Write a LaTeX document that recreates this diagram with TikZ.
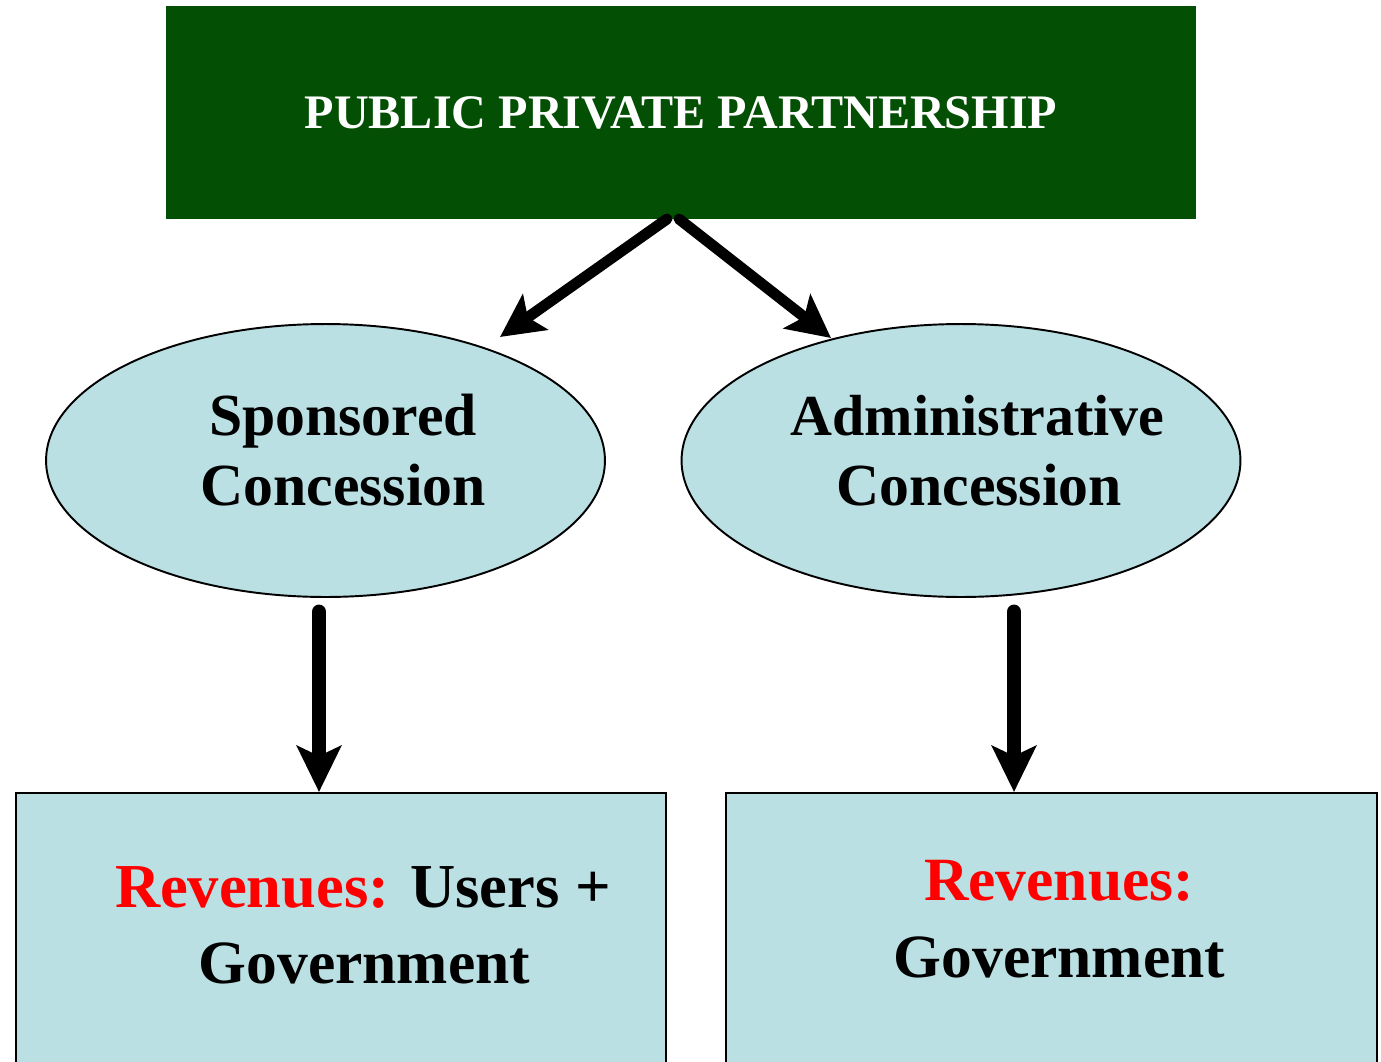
\documentclass[tikz,border=0pt]{standalone}
\usepackage{fontspec}
\setmainfont{Liberation Serif}
\usetikzlibrary{shapes.geometric,arrows.meta}
\definecolor{pppgreen}{RGB}{3,79,3}
\definecolor{lightcyan}{RGB}{186,224,227}
\definecolor{revred}{RGB}{255,0,0}
\begin{document}
\begin{tikzpicture}[x=0.02cm,y=-0.02cm,
  topbox/.style={rectangle,fill=pppgreen,draw=none,inner sep=0pt,minimum width=20.6cm,minimum height=4.26cm},
  ovalnode/.style={ellipse,fill=lightcyan,draw=black,line width=1.1pt,inner sep=0pt,minimum width=11.18cm,minimum height=5.46cm},
  revbox/.style={rectangle,fill=lightcyan,draw=black,line width=1.1pt,inner sep=0pt,minimum width=13cm,minimum height=5.74cm},
  ovaltext/.style={anchor=base,inner sep=0pt,font=\fontsize{34}{40}\selectfont\bfseries},
  revtext/.style={anchor=base,inner sep=0pt,font=\fontsize{35}{42}\selectfont\bfseries},
  diagarrow/.style={line width=6.2pt,line cap=round,-{Stealth[length=0.86cm,width=0.86cm,inset=0.18cm]}},
  vertarrow/.style={line width=8.5pt,line cap=round,-{Stealth[length=0.92cm,width=0.88cm,inset=0.2cm]}}
]
\useasboundingbox (0,0) rectangle (1381,1061);
\clip (0,0) rectangle (1381,1061);
\fill[white] (0,0) rectangle (1381,1061);

% top box
\node[topbox] (ppp) at (681,112.5) {};
\node[anchor=base,inner sep=0pt,text=white,font=\fontsize{27.4}{32}\selectfont\bfseries] (ppptext) at (681,128) {PUBLIC PRIVATE PARTNERSHIP};

% ellipses
\node[ovalnode] (sp) at (325.5,460.5) {};
\node[ovalnode] (ad) at (961,460.5) {};
\node[ovaltext] (sp1) at (343,435) {Sponsored};
\node[ovaltext] (sp2) at (343,505) {Concession};
\node[ovaltext,font=\fontsize{33}{40}\selectfont\bfseries] (ad1) at (977.5,435) {Administrative};
\node[ovaltext] (ad2) at (979,505) {Concession};

% bottom boxes
\node[revbox] (bl) at (341,936.5) {};
\node[revbox,minimum width=13.02cm] (br) at (1051.5,936.5) {};
\node[revtext,font=\fontsize{35.6}{42}\selectfont\bfseries] (bl1) at (363,907) {\textcolor{revred}{Revenues:} Users +};
\node[revtext] (bl2) at (364.5,983) {Government};
\node[revtext,text=revred] (br1) at (1059,900) {Revenues:};
\node[revtext] (br2) at (1059.5,977) {Government};

% connector end points
\coordinate (s1) at (667,219);
\coordinate (e1) at (500,337);
\coordinate (s2) at (679,219);
\coordinate (e2) at (831,338);
\coordinate (s3) at (319,612);
\coordinate (e3) at (319,792);
\coordinate (s4) at (1014,612);
\coordinate (e4) at (1014,792);

\draw[diagarrow] (s1) -- (e1);
\draw[diagarrow] (s2) -- (e2);
\draw[vertarrow] (s3) -- (e3);
\draw[vertarrow] (s4) -- (e4);
\end{tikzpicture}
\end{document}
